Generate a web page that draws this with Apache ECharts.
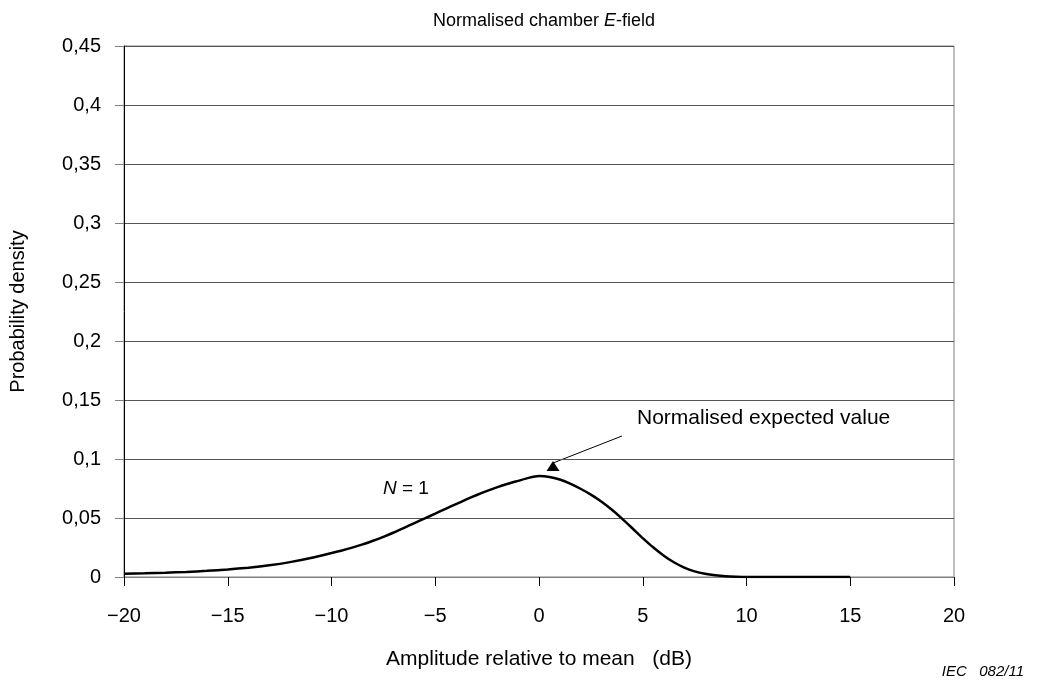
<!DOCTYPE html>
<html>
<head>
<meta charset="utf-8">
<script src="https://cdn.jsdelivr.net/npm/echarts@6/dist/echarts.min.js"></script>
<style>
html,body{margin:0;padding:0;background:#fff;}
#chart{width:1046px;height:684px;}
</style>
</head>
<body>
<div id="chart"></div>
<script>
// Amplitude relative to mean (dB)
const amplitudeDb = [-20,-19,-18,-17,-16,-15,-14,-13,-12,-11,
  -10,-9.5,-9,-8.5,-8,-7.5,-7,-6.5,-6,-5.5,-5,-4.5,-4,-3.5,-3,-2.5,-2,-1.5,-1,-0.5,
  0,0.5,1,1.5,2,2.5,3,3.5,4,4.5,5,5.5,6,6.5,7,7.5,8,8.5,9,9.5,10,
  11,12,13,14,15];
// Probability density, N = 1
const densityN1 = [0.0027,0.0031,0.0036,0.0043,0.0052,0.0064,0.0079,0.0099,0.0126,0.0161,
  0.0203,0.0225,0.0249,0.0276,0.0307,0.0340,0.0377,0.0417,0.0457,0.0497,0.0537,0.0578,0.0618,0.0657,0.0695,0.0730,0.0762,0.0790,0.0815,0.0840,
  0.0855,0.0848,0.0826,0.0792,0.0748,0.0698,0.0640,0.0572,0.0495,0.0413,0.0330,0.0252,0.0183,0.0125,0.0080,0.0048,0.0027,0.0014,0.0006,0.0002,0.0000,
  0,0,0,0,0];
const xTicks = {min:-20, max:20, step:5};
const yTicks = {min:0, max:0.45, step:0.05};

const FONT = '"Liberation Sans", Arial, sans-serif';
const chart = echarts.init(document.getElementById('chart'));
chart.setOption({
  animation:false,
  backgroundColor:'#fff',
  textStyle:{fontFamily:FONT},
  title:{
    text:'{a|Normalised chamber }{b|E}{a|-field}',
    left:539, top:7, textAlign:'center',
    textStyle:{fontWeight:'normal',rich:{
      a:{fontFamily:FONT,fontSize:18,fontWeight:'normal',color:'#000'},
      b:{fontFamily:FONT,fontSize:18,fontWeight:'normal',color:'#000',fontStyle:'italic'}
    }}
  },
  grid:{left:124,right:92,top:46,bottom:107,show:true,borderColor:'#808080',borderWidth:1,backgroundColor:'transparent'},
  xAxis:{
    type:'value',min:xTicks.min,max:xTicks.max,interval:xTicks.step,
    axisLine:{show:true,onZero:false,lineStyle:{color:'#808080',width:1}},
    axisTick:{show:true,length:9,lineStyle:{color:'#000'}},
    splitLine:{show:false},
    axisLabel:{fontFamily:FONT,fontSize:20,color:'#000',margin:29,
      formatter:v=>String(v).replace('-','\u2212')},
    name:'Amplitude relative to mean   (dB)',nameLocation:'middle',nameGap:72,
    nameTextStyle:{fontFamily:FONT,fontSize:21,color:'#000'}
  },
  yAxis:{
    type:'value',min:yTicks.min,max:yTicks.max,interval:yTicks.step,
    axisLine:{show:true,onZero:false,lineStyle:{color:'#000',width:1}},
    axisTick:{show:true,length:9,lineStyle:{color:'#808080'}},
    splitLine:{show:true,lineStyle:{color:'#555',width:1}},
    axisLabel:{fontFamily:FONT,fontSize:20,color:'#000',margin:23,
      formatter:v=>String(+v.toFixed(2)).replace('.',',')},
    name:'Probability density',nameLocation:'middle',nameGap:96,
    nameTextStyle:{fontFamily:FONT,fontSize:20,color:'#000'}
  },
  series:[{
    type:'line',
    data:amplitudeDb.map((x,i)=>[x,densityN1[i]]),
    showSymbol:false,smooth:0.2,
    lineStyle:{color:'#000',width:2.5},
    z:5
  }],
  graphic:[
    {type:'text',left:637,top:408,style:{text:'Normalised expected value',font:'21px '+FONT,fill:'#000'}},
    {type:'line',shape:{x1:622,y1:436,x2:553,y2:463},style:{stroke:'#000',lineWidth:1}},
    {type:'polygon',shape:{points:[[553,461],[546.5,471],[559.5,471]]},style:{fill:'#000'}},
    {type:'text',left:383,top:479,style:{
      text:'{i|N}{n| = 1}',
      rich:{i:{fontFamily:FONT,fontSize:19,fontStyle:'italic',fill:'#000'},n:{fontFamily:FONT,fontSize:19,fill:'#000'}}
    }},
    {type:'text',right:22,top:664,style:{text:'IEC   082/11',font:'italic 15px '+FONT,fill:'#000'}}
  ]
});
</script>
</body>
</html>
